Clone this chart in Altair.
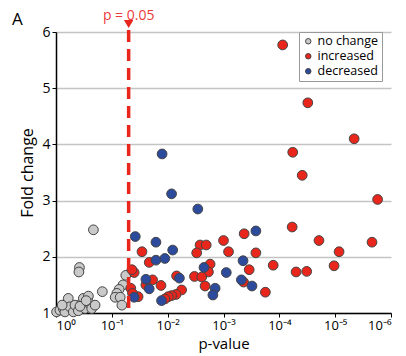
import altair as alt
import pandas as pd

# -log10(p) and fold change
gray_neglogp = [0.67, 0.42, 0.41, 0.83, 1.25, 1.20, 1.13, 1.09, 1.06, 1.15, 1.18,
                0.01, 0.07, 0.13, 0.16, 0.22, 0.25, 0.31, 0.34, 0.40, 0.46, 0.49,
                0.52, 0.58, 0.60, 0.64, 0.70, 0.11, 0.43, 0.54]
gray_fc = [2.48, 1.81, 1.73, 1.38, 1.67, 1.50, 1.42, 1.35, 1.28, 1.28, 1.14,
           1.02, 1.05, 1.08, 1.02, 1.26, 1.11, 1.02, 1.14, 1.04, 1.17, 1.26,
           1.08, 1.30, 1.17, 1.08, 1.14, 1.14, 1.12, 1.22]

red_neglogp = [4.06, 4.51, 5.34, 4.24, 4.41, 5.76, 4.71, 5.07, 5.66, 4.98, 4.23,
               3.37, 3.00, 3.09, 3.58, 3.89, 3.46, 4.30, 4.49, 3.36, 3.75, 2.58,
               2.69, 2.52, 1.54, 1.67, 2.76, 2.73, 1.40, 1.73, 2.16, 2.48, 2.61,
               1.61, 1.88, 2.67, 2.25, 2.15, 2.07, 2.01, 1.95, 1.47, 1.34, 1.37,
               1.36]
red_fc = [5.77, 4.74, 4.10, 3.86, 3.45, 3.02, 2.29, 2.09, 2.26, 1.84, 2.53,
          2.41, 2.29, 2.09, 2.07, 1.85, 1.77, 1.73, 1.74, 1.55, 1.37, 2.21,
          2.21, 2.07, 2.09, 1.90, 1.87, 1.73, 1.72, 1.59, 1.66, 1.65, 1.64,
          1.50, 1.49, 1.48, 1.41, 1.33, 1.31, 1.29, 1.25, 1.29, 1.44, 1.35,
          1.77]

blue_neglogp = [1.90, 2.07, 2.54, 3.58, 1.42, 1.79, 2.09, 1.79, 1.95, 2.65, 3.05,
                3.35, 1.61, 2.21, 1.67, 2.85, 2.81, 1.89, 1.40, 3.32, 3.51]
blue_fc = [3.83, 3.12, 2.85, 2.46, 2.36, 2.26, 2.12, 1.94, 1.97, 1.81, 1.72,
           1.93, 1.60, 1.62, 1.43, 1.44, 1.32, 1.22, 1.28, 1.59, 1.48]

categories = ["no change", "increased", "decreased"]
threshold = [0.05]
tick_p = [1, 0.1, 0.01, 0.001, 0.0001, 0.00001, 0.000001]

rows = []
for nl, fc in zip(gray_neglogp, gray_fc):
    rows.append({"p": 10 ** (-nl), "fc": fc, "group": "no change"})
for nl, fc, in zip(red_neglogp, red_fc):
    rows.append({"p": 10 ** (-nl), "fc": fc, "group": "increased"})
for nl, fc in zip(blue_neglogp, blue_fc):
    rows.append({"p": 10 ** (-nl), "fc": fc, "group": "decreased"})
df = pd.DataFrame(rows)

RED = "#e8261c"
FONT = "Open Sans"

xscale = alt.Scale(type="log", domain=[1, 1e-6], nice=False)
yscale = alt.Scale(domain=[1, 6], nice=False, zero=False)

label_expr = ("['10⁰','10⁻¹','10⁻²','10⁻³','10⁻⁴','10⁻⁵','10⁻⁶']"
              "[round(-log(datum.value)/LN10)]")

points = alt.Chart(df).mark_circle(size=95, opacity=1, stroke="#444444",
                                   strokeWidth=1).encode(
    x=alt.X("p:Q", scale=xscale, title="p-value",
            axis=alt.Axis(values=tick_p, labelExpr=label_expr, grid=False,
                          domainColor="#000", domainWidth=1.5, tickColor="#000",
                          tickSize=4, labelFontSize=13, titleFontSize=15,
                          titleFontWeight="normal", labelColor="#000",
                          titleColor="#000", labelPadding=2, titlePadding=4,
                          labelFont=FONT, titleFont=FONT)),
    y=alt.Y("fc:Q", scale=yscale, title="Fold change",
            axis=alt.Axis(values=[1, 2, 3, 4, 5, 6], grid=True, gridColor="#c4c4c4",
                          gridWidth=1.3, domainColor="#000", domainWidth=1.5,
                          tickColor="#000", tickSize=4, labelFontSize=14,
                          titleFontSize=16, titleFontWeight="normal",
                          labelColor="#000", titleColor="#000", labelPadding=2,
                          titlePadding=6, labelFont=FONT, titleFont=FONT)),
    color=alt.Color("group:N",
                    scale=alt.Scale(domain=categories,
                                    range=["#c9c9c9", RED, "#2d4b9c"]),
                    legend=alt.Legend(title=None, orient="none", legendX=243,
                                      legendY=0, strokeColor="#999999",
                                      fillColor="white", padding=3,
                                      labelFontSize=12.5, labelFont=FONT,
                                      labelColor="#000", symbolType="circle",
                                      symbolSize=30, symbolStrokeColor="#444",
                                      symbolStrokeWidth=1, rowPadding=2,
                                      labelOffset=3, labelLimit=200)),
)

tdf = pd.DataFrame({"p": threshold, "label": ["p = 0.05"]})

rule = alt.Chart(tdf).mark_rule(color=RED, strokeDash=[12, 7],
                                strokeWidth=3.5).encode(
    x="p:Q", y=alt.value(-2), y2=alt.value(281))

tri = alt.Chart(tdf).mark_point(shape="triangle-down", filled=True, size=90,
                                color=RED, opacity=1).encode(
    x="p:Q", y=alt.value(-8))

ptext = alt.Chart(tdf).mark_text(color="#ee3b3b", fontSize=14, font=FONT,
                                 baseline="middle").encode(
    x="p:Q", y=alt.value(-16.5), text="label:N")

atext = alt.Chart(pd.DataFrame({"t": ["A"]})).mark_text(
    fontSize=17, font=FONT, align="left", baseline="middle", color="#000").encode(
    x=alt.value(-44), y=alt.value(-12), text="t:N")

chart = alt.layer(points, rule, tri, ptext, atext).properties(
    width=335, height=281,
    autosize=alt.AutoSizeParams(type="none"),
    padding={"left": 48, "top": 24, "right": 7, "bottom": 40},
).configure_view(stroke=None)

chart.save("out.html", embed_options={"renderer": "svg", "actions": False})
